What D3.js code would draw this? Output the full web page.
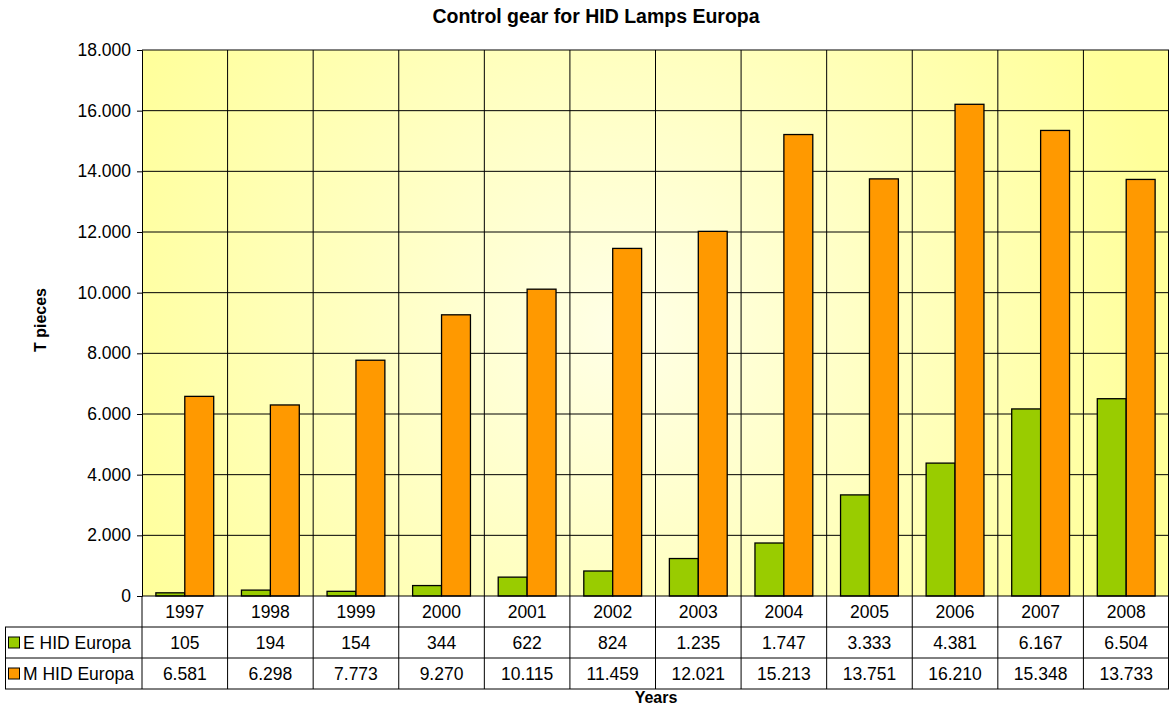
<!DOCTYPE html>
<html>
<head>
<meta charset="utf-8">
<script src="https://cdn.jsdelivr.net/npm/d3@7"></script>
<style>
  body { margin: 0; background: #fff; }
  text { font-family: "Liberation Sans", Arial, sans-serif; fill: #000; }
</style>
</head>
<body>
<svg id="chart" width="1169" height="707"></svg>
<script>
// chart data
const years = ["1997", "1998", "1999", "2000", "2001", "2002", "2003", "2004", "2005", "2006", "2007", "2008"];
const eHid = [105, 194, 154, 344, 622, 824, 1235, 1747, 3333, 4381, 6167, 6504];
const mHid = [6581, 6298, 7773, 9270, 10115, 11459, 12021, 15213, 13751, 16210, 15348, 13733];
const seriesNames = ["E HID Europa", "M HID Europa"];
const seriesColors = ["#99cc00", "#ff9900"];
const yTicks = [0, 2000, 4000, 6000, 8000, 10000, 12000, 14000, 16000, 18000];

const svg = d3.select("#chart");
const plotLeft = 142, plotRight = 1169, plotTop = 50, plotBottom = 596;
const rowH = 31;
const fs = "17.5px";

const fmt = v => d3.format(",")(v).replace(/,/g, ".");

const x = d3.scaleBand().domain(years).range([plotLeft, plotRight]);
const xs = d3.scaleBand().domain([0, 1]).range([0, x.bandwidth()]).paddingOuter(0.48);
const y = d3.scaleLinear().domain([0, 18000]).range([plotBottom, plotTop]);

// radial background
const defs = svg.append("defs");
const grad = defs.append("radialGradient").attr("id", "bg")
    .attr("gradientUnits", "userSpaceOnUse")
    .attr("cx", 620).attr("cy", 330).attr("r", 560);
grad.append("stop").attr("offset", "0%").attr("stop-color", "#ffffe6");
grad.append("stop").attr("offset", "100%").attr("stop-color", "#ffff99");

svg.append("rect").attr("x", plotLeft).attr("y", plotTop)
    .attr("width", plotRight - plotLeft).attr("height", plotBottom - plotTop)
    .attr("fill", "url(#bg)");

// gridlines
svg.append("g").selectAll("line").data(yTicks.slice(1))
  .join("line")
    .attr("x1", plotLeft).attr("x2", plotRight)
    .attr("y1", d => y(d)).attr("y2", d => y(d))
    .attr("stroke", "#000").attr("stroke-width", 1);
svg.append("g").selectAll("line").data(years.slice(1).concat(["end"]))
  .join("line")
    .attr("x1", (d, i) => i < years.length - 1 ? x(d) : plotRight - 0.5)
    .attr("x2", (d, i) => i < years.length - 1 ? x(d) : plotRight - 0.5)
    .attr("y1", plotTop).attr("y2", plotBottom)
    .attr("stroke", "#000").attr("stroke-width", 1);

// bars
const series = [eHid, mHid];
series.forEach((vals, s) => {
  svg.append("g").selectAll("rect").data(vals)
    .join("rect")
      .attr("x", (d, i) => x(years[i]) + xs(s))
      .attr("y", d => y(d))
      .attr("width", xs.bandwidth())
      .attr("height", d => plotBottom - y(d))
      .attr("fill", seriesColors[s])
      .attr("stroke", "#000").attr("stroke-width", 1.3);
});

// y axis
const yAxis = svg.append("g").attr("transform", `translate(${plotLeft},0)`)
    .call(d3.axisLeft(y).tickValues(yTicks).tickFormat(fmt).tickSize(5).tickPadding(6));
yAxis.select(".domain").attr("stroke", "#000");
yAxis.selectAll("text").style("font-size", fs).style("font-family", "Liberation Sans, Arial, sans-serif");

// data table
const tbl = svg.append("g");
const tableBottom = plotBottom + rowH * 3;
tbl.append("line").attr("x1", plotLeft).attr("x2", plotRight).attr("y1", plotBottom).attr("y2", plotBottom).attr("stroke", "#000");
[1, 2, 3].forEach(r => {
  tbl.append("line").attr("x1", 5).attr("x2", plotRight)
    .attr("y1", plotBottom + rowH * r).attr("y2", plotBottom + rowH * r).attr("stroke", "#000");
});
tbl.append("line").attr("x1", 5.5).attr("x2", 5.5).attr("y1", plotBottom + rowH).attr("y2", tableBottom).attr("stroke", "#000");
years.concat(["end"]).forEach((d, i) => {
  const xx = i < years.length ? x(d) : plotRight - 0.5;
  tbl.append("line").attr("x1", xx).attr("x2", xx).attr("y1", plotBottom).attr("y2", tableBottom).attr("stroke", "#000");
});

tbl.selectAll("text.yr").data(years).join("text").attr("class", "yr")
    .attr("x", d => x(d) + x.bandwidth() / 2).attr("y", plotBottom + rowH / 2 + 6)
    .attr("text-anchor", "middle").style("font-size", fs).text(d => d);

series.forEach((vals, s) => {
  const rowY = plotBottom + rowH * (s + 1);
  tbl.append("g").selectAll("text").data(vals).join("text")
      .attr("x", (d, i) => x(years[i]) + x.bandwidth() / 2).attr("y", rowY + rowH / 2 + 6)
      .attr("text-anchor", "middle").style("font-size", fs).text(d => fmt(d));
  tbl.append("rect").attr("x", 8.5).attr("y", rowY + rowH / 2 - 5.5)
      .attr("width", 11).attr("height", 11)
      .attr("fill", seriesColors[s]).attr("stroke", "#000");
  tbl.append("text").attr("x", 23).attr("y", rowY + rowH / 2 + 6)
      .style("font-size", fs).text(seriesNames[s]);
});

// titles
svg.append("text").attr("x", 596).attr("y", 23).attr("text-anchor", "middle")
    .style("font-size", "19.5px").style("font-weight", "bold")
    .text("Control gear for HID Lamps Europa");
svg.append("text").attr("transform", "translate(46,320) rotate(-90)").attr("text-anchor", "middle")
    .style("font-size", "16px").style("font-weight", "bold").text("T pieces");
svg.append("text").attr("x", 656).attr("y", 703).attr("text-anchor", "middle")
    .style("font-size", "16px").style("font-weight", "bold").text("Years");
</script>
</body>
</html>
